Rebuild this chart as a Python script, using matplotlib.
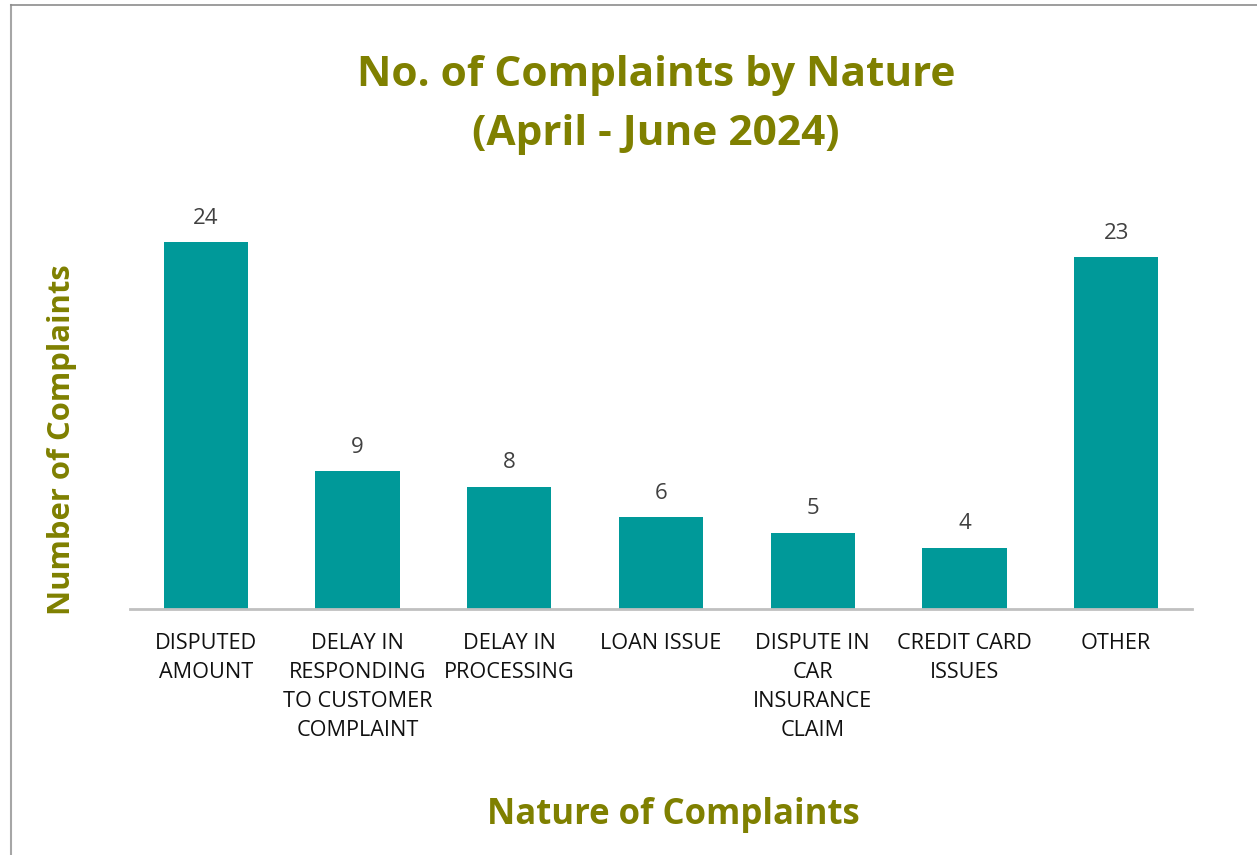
import matplotlib.pyplot as plt

categories = ["DISPUTED\nAMOUNT", "DELAY IN\nRESPONDING\nTO CUSTOMER\nCOMPLAINT",
              "DELAY IN\nPROCESSING", "LOAN ISSUE", "DISPUTE IN\nCAR\nINSURANCE\nCLAIM",
              "CREDIT CARD\nISSUES", "OTHER"]
complaints = [24, 9, 8, 6, 5, 4, 23]

olive = "#7f8000"
teal = "#009999"

plt.rcParams['font.family'] = ['Open Sans', 'DejaVu Sans']

W, H = 1257, 855
fig = plt.figure(figsize=(W / 100, H / 100), dpi=100)

# frame lines (left and top only visible)
fig.add_artist(plt.Line2D([11 / W, 11 / W], [0, 1 - 5 / H], color="#a6a6a6", lw=1.5))
fig.add_artist(plt.Line2D([11 / W, 1], [1 - 5 / H, 1 - 5 / H], color="#8c8c8c", lw=1.2))

ax = fig.add_axes([130 / W, 1 - 609 / H, (1192 - 130) / W, (609 - 200) / H])
x = range(len(categories))
bars = ax.bar(x, complaints, width=0.555, color=teal)
ax.set_xlim(-0.5, len(categories) - 0.5)
ax.set_ylim(0, 26.75)

for b, v in zip(bars, complaints):
    ax.text(b.get_x() + b.get_width() / 2, v + 0.88, str(v), ha="center", va="bottom",
            fontsize=16, color="#404040")

ax.set_xticks(list(x))
ax.set_xticklabels(categories, fontsize=15.6, color="#111111", linespacing=1.5, va="top")
ax.tick_params(axis="x", length=0, pad=17.5)
ax.set_yticks([])
for s in ["left", "right", "top"]:
    ax.spines[s].set_visible(False)
ax.spines["bottom"].set_color("#c0c0c0")
ax.spines["bottom"].set_linewidth(2)

fig.text(656 / W, 1 - 105 / H, "No. of Complaints by Nature\n(April - June 2024)", ha="center",
         va="center", fontsize=30.5, fontweight="bold", color=olive, linespacing=1.6)
fig.text(62 / W, 1 - 440 / H, "Number of Complaints", rotation=90, ha="center", va="center",
         fontsize=22.3, fontweight="bold", color=olive)
fig.text(673 / W, 1 - 815 / H, "Nature of Complaints", ha="center", va="center",
         fontsize=25, fontweight="bold", color=olive)

plt.savefig("out.png", dpi=100)
